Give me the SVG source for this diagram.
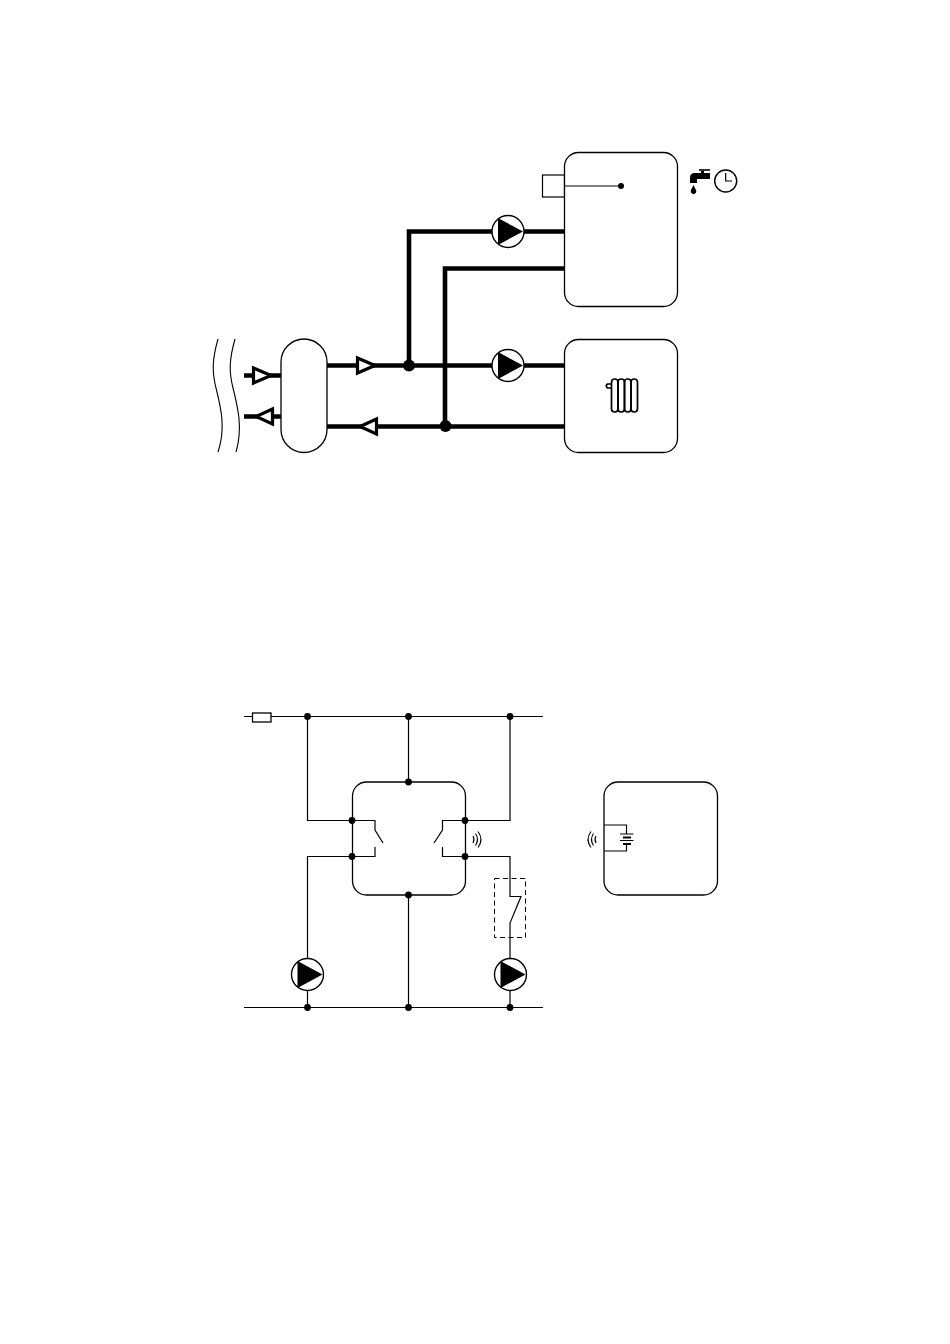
<svg xmlns="http://www.w3.org/2000/svg" width="950" height="1344" viewBox="0 0 950 1344">
<style>
.n{fill:#fff;stroke:#000;stroke-width:1.3}
.thick{fill:none;stroke:#000;stroke-width:4.6}
.thin{fill:none;stroke:#000;stroke-width:1.2}
.tri{fill:#fff;stroke:#000;stroke-width:3.2}
.pc{fill:#fff;stroke:#000;stroke-width:1.4}
.sm{fill:none;stroke:#000;stroke-width:1.1}
</style>
<defs>
<g id="pump"><circle class="pc" r="16"/><path d="M-10-13.500L15 0L-10 13.500Z" fill="#000"/></g>
<circle id="jb" r="6" fill="#000"/>
<circle id="js" r="3.400" fill="#000"/>
</defs>
<rect width="950" height="1344" fill="#fff"/>
<g id="connectors">
<path class="thick" d="M327 365.500H564M409 365.500V231.500H564M445 426V268.500H564M327 426.500H564M244 375.500H281M244 416.500H281"/>
<path class="thin" d="M244 716.500H543M244 1007.500H543M307.500 716.500V820.500H375V830L383 843M375 847V856.500H307.500V1007.500M408.500 716.500V782M408.500 895V1007.500M510 716.500V820.500H442.500V830L434 843M442.500 847V856.500H510V896.500H521L510 923V1007.500"/>
</g>
<g id="river">
<path class="sm" d="M218 339C212 360 212 372 216 388C221 408 226 428 218 452"/>
<path class="sm" d="M235 339C229 360 229 372 233 388C238 408 243 428 236 452"/>
</g>
<g id="buffer"><rect class="n" x="281" y="339" width="46" height="113.500" rx="23"/></g>
<g id="check-valves">
<path class="tri" d="M253.500 368L271 375.500L253.500 383Z"/>
<path class="tri" d="M272.500 409L256 416.500L272.500 424Z"/>
<path class="tri" d="M357.500 358L375 365.500L357.500 373Z"/>
<path class="tri" d="M376.500 419L360 426.500L376.500 434Z"/>
</g>
<g id="junctions-top"><use href="#jb" x="409" y="365.500"/><use href="#jb" x="445.500" y="426"/></g>
<g id="pump-dhw"><use href="#pump" x="508" y="231.500"/></g>
<g id="pump-heating"><use href="#pump" x="508" y="365.500"/></g>
<g id="sensor-pocket"><rect class="thin" x="542.500" y="175" width="22" height="22"/></g>
<g id="dhw-tank">
<rect class="n" x="564.500" y="152.500" width="113" height="154" rx="14"/>
<path class="thin" d="M564.500 186H621"/>
<circle cx="621" cy="186" r="3"/>
</g>
<g id="heating-load">
<rect class="n" x="564.500" y="339.500" width="113" height="113" rx="14"/>
<g fill="none" stroke="#000" stroke-width="1.700">
<rect x="611.500" y="379" width="6.500" height="33" rx="3.200"/>
<rect x="618" y="379" width="6.500" height="33" rx="3.200"/>
<rect x="624.500" y="379" width="6.500" height="33" rx="3.200"/>
<rect x="631" y="379" width="6.500" height="33" rx="3.200"/>
<path d="M611.500 384H607.500Q605 386 607.500 388H611.500"/>
</g>
</g>
<g id="tap-icon">
<path d="M690 183V178Q690 173 695 173H701V171H704V173H710V179H697V183Z" fill="#000"/>
<path d="M699 170H710" stroke="#000" stroke-width="1.600"/>
<path d="M693.500 185L696 190A2.800 2.800 0 1 1 691 190Z" fill="#000"/>
</g>
<g id="clock-icon">
<circle cx="725.700" cy="181" r="11" fill="#fff" stroke="#000" stroke-width="1.400"/>
<path class="thin" d="M725.700 173V181H732"/>
</g>
<g id="fuse"><rect class="n" x="252.500" y="713" width="18.500" height="9"/></g>
<g id="controller">
<rect fill="none" stroke="#000" stroke-width="1.300" x="352.500" y="782" width="113" height="113" rx="14"/>
<path class="sm" d="M473 836Q475 839.500 473 843M475.500 833.500Q479.500 839.500 475.500 845.500M478 831.500Q484 839.500 478 847.500"/>
</g>
<g id="junctions-bottom">
<use href="#js" x="307.500" y="716.500"/><use href="#js" x="408.500" y="716.500"/><use href="#js" x="510" y="716.500"/>
<use href="#js" x="408.500" y="782"/><use href="#js" x="408.500" y="895"/>
<use href="#js" x="352" y="820.500"/><use href="#js" x="352" y="856.500"/>
<use href="#js" x="465" y="820.500"/><use href="#js" x="465" y="856.500"/>
<use href="#js" x="307.500" y="1007.500"/><use href="#js" x="408.500" y="1007.500"/><use href="#js" x="510" y="1007.500"/>
</g>
<g id="float-switch"><rect fill="none" stroke="#000" stroke-width="1" stroke-dasharray="5 3.500" x="494.500" y="878.500" width="31" height="59"/></g>
<g id="pump-left"><use href="#pump" x="307.500" y="974.500"/></g>
<g id="pump-right"><use href="#pump" x="510.500" y="974.500"/></g>
<g id="wireless-box">
<rect fill="none" stroke="#000" stroke-width="1.300" x="604" y="782" width="113.500" height="113" rx="14"/>
<path class="thin" d="M604 825H626.500V834M626.500 844V851H604"/>
<path d="M620 834H633.500" stroke="#000" stroke-width="1"/>
<path d="M623 837.500H631" stroke="#000" stroke-width="2"/>
<path d="M620 840.500H633.500" stroke="#000" stroke-width="1"/>
<path d="M623 844H631" stroke="#000" stroke-width="2"/>
<path class="sm" d="M596 836Q594 839.500 596 843M593.500 833.500Q589.500 839.500 593.500 845.500M591 831.500Q585 839.500 591 847.500"/>
</g>
</svg>
